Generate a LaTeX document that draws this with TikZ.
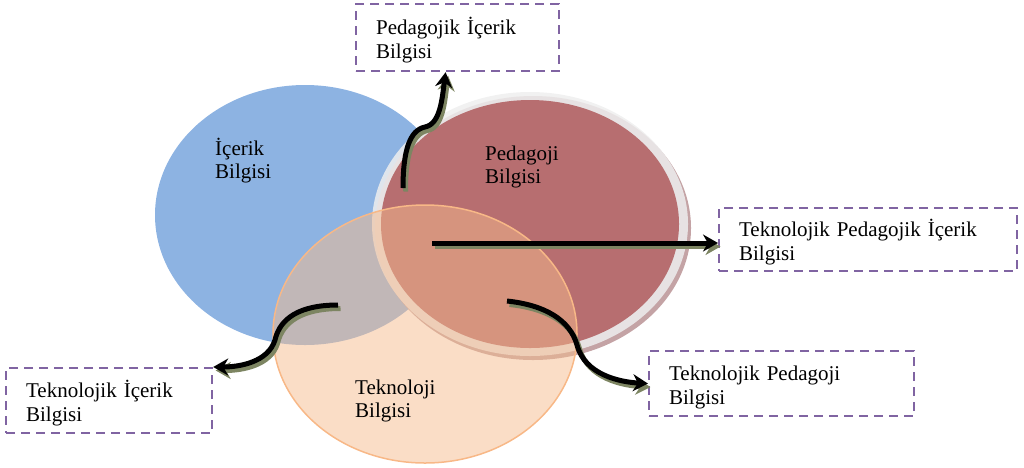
\documentclass[tikz,border=0pt]{standalone}
\usepackage{fontspec}
\setmainfont{Liberation Serif}
\usetikzlibrary{arrows.meta}

\definecolor{icblue}{HTML}{8DB3E2}
\definecolor{pedred}{HTML}{A84A4C}
\definecolor{ringgray}{HTML}{EEEEEE}
\definecolor{ringshadow}{HTML}{C4A3A5}
\definecolor{tekorange}{HTML}{F5BB8D}
\definecolor{tekedge}{HTML}{F8B887}
\definecolor{boxpurple}{HTML}{8064A2}
\definecolor{arrshade}{HTML}{7D8562}

\begin{document}
\begin{tikzpicture}[x=1pt, y=-1pt,
  kbox/.style={draw=boxpurple, line width=2.2pt, dash pattern=on 9pt off 6pt,
    anchor=north west, align=left, inner xsep=20pt,
    font=\fontsize{21}{24}\selectfont,
    execute at begin node={\rule{0pt}{22pt}}},
  lbl/.style={anchor=north west, align=left, inner sep=0pt,
    font=\fontsize{21}{23}\selectfont},
  bigarrow/.style={line width=5pt, -{Stealth[length=15pt,width=17pt]},
    preaction={draw=arrshade, line width=5pt, -{Stealth[length=15pt,width=17pt]},
      transform canvas={shift={(2.5pt,-3.5pt)}}}}]
\useasboundingbox (0,0) rectangle (1024,467);

% the three circles
\fill[icblue] (305,215) ellipse [x radius=150, y radius=130];
\fill[ringshadow] (533,228) ellipse [x radius=158, y radius=132];
\fill[ringgray, opacity=0.85] (530,224) ellipse [x radius=158, y radius=132];
\fill[pedred, opacity=0.76] (530,224) ellipse [x radius=149, y radius=124];
\filldraw[fill=tekorange, fill opacity=0.5, draw=tekedge, line width=1.5pt] (425,334) ellipse [x radius=152, y radius=129];

% circle labels
\node[lbl] (icerik) at (215,138) {İçerik\\Bilgisi};
\node[lbl] (pedagoji) at (485,146) {Pedagoji\\Bilgisi};
\node[lbl] (teknoloji) at (355,380) {Teknoloji\\Bilgisi};

% the boxes
\node[kbox, text width=163pt, minimum height=67pt] (pik) at (355,3) {Pedagojik İçerik\\Bilgisi};
\node[kbox, text width=258pt, minimum height=63pt] (tpik) at (718,207) {Teknolojik Pedagojik İçerik\\Bilgisi};
\node[kbox, text width=225pt, minimum height=65pt] (tpb) at (648,350) {Teknolojik Pedagoji\\Bilgisi};
\node[kbox, text width=166pt, minimum height=65pt] (tib) at (5,367) {Teknolojik İçerik\\Bilgisi};

% arrows out of the overlaps
\coordinate (pikstart) at (403,188);
\coordinate (tpikstart) at (432,243);
\coordinate (tpbstart) at (507,301);
\coordinate (tibstart) at (338,305);

\draw[bigarrow] (pikstart) .. controls (403,150) and (410,130) .. (425,127)
  .. controls (440,124) and (442,100) .. ([xshift=-12pt]pik.south);
\draw[bigarrow] (tpikstart) -- (tpikstart -| tpik.west);
\draw[bigarrow] (tpbstart) .. controls (545,305) and (570,320) .. (577,345)
  .. controls (585,375) and (620,382) .. (tpb.west);
\draw[bigarrow] (tibstart) .. controls (300,305) and (280,318) .. (275,340)
  .. controls (268,362) and (240,367) .. (tib.north east);
\end{tikzpicture}
\end{document}
